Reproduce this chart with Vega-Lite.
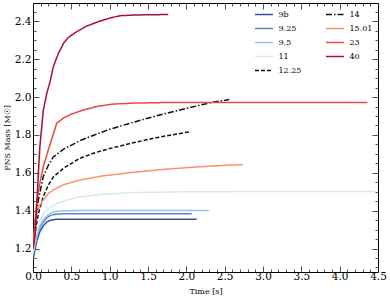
{
  "$schema": "https://vega.github.io/schema/vega-lite/v6.json",
  "width": 345,
  "height": 269,
  "autosize": {"type": "none"},
  "padding": {"left": 33, "top": 3, "right": 12, "bottom": 26},
  "background": "white",
  "config": {
    "view": {"stroke": "black", "strokeWidth": 1},
    "font": "DejaVu Serif",
    "axis": {
      "domain": false,
      "grid": false,
      "labelFont": "DejaVu Serif",
      "labelFontSize": 10.5,
      "labelColor": "black",
      "labelFlush": false,
      "labelOverlap": false,
      "labelBound": false,
      "tickColor": "#222",
      "tickWidth": 0.8,
      "titleFont": "DejaVu Serif",
      "titleFontSize": 8,
      "titleFontWeight": "normal",
      "titleColor": "black"
    }
  },
  "data": {"values": [
    {"m":"9b","t":0,"M":1.14},{"m":"9b","t":0.02,"M":1.18},{"m":"9b","t":0.05,"M":1.24},{"m":"9b","t":0.09,"M":1.29},{"m":"9b","t":0.134,"M":1.32},{"m":"9b","t":0.18,"M":1.34},{"m":"9b","t":0.23,"M":1.35},{"m":"9b","t":0.3,"M":1.354},{"m":"9b","t":1.0,"M":1.354},{"m":"9b","t":2.135,"M":1.354},
    {"m":"9.25","t":0,"M":1.16},{"m":"9.25","t":0.02,"M":1.2},{"m":"9.25","t":0.05,"M":1.26},{"m":"9.25","t":0.09,"M":1.31},{"m":"9.25","t":0.134,"M":1.34},{"m":"9.25","t":0.18,"M":1.362},{"m":"9.25","t":0.23,"M":1.375},{"m":"9.25","t":0.3,"M":1.382},{"m":"9.25","t":0.45,"M":1.384},{"m":"9.25","t":2.07,"M":1.384},
    {"m":"9.5","t":0,"M":1.17},{"m":"9.5","t":0.02,"M":1.21},{"m":"9.5","t":0.048,"M":1.263},{"m":"9.5","t":0.09,"M":1.32},{"m":"9.5","t":0.134,"M":1.35},{"m":"9.5","t":0.18,"M":1.372},{"m":"9.5","t":0.222,"M":1.385},{"m":"9.5","t":0.3,"M":1.396},{"m":"9.5","t":0.41,"M":1.4},{"m":"9.5","t":1.0,"M":1.401},{"m":"9.5","t":2.295,"M":1.401},
    {"m":"11","t":0,"M":1.18},{"m":"11","t":0.03,"M":1.26},{"m":"11","t":0.06,"M":1.31},{"m":"11","t":0.091,"M":1.351},{"m":"11","t":0.15,"M":1.39},{"m":"11","t":0.2,"M":1.41},{"m":"11","t":0.309,"M":1.438},{"m":"11","t":0.45,"M":1.458},{"m":"11","t":0.613,"M":1.473},{"m":"11","t":0.9,"M":1.486},{"m":"11","t":1.265,"M":1.495},{"m":"11","t":2.0,"M":1.5},{"m":"11","t":3.0,"M":1.501},{"m":"11","t":4.46,"M":1.501},
    {"m":"12.25","t":0,"M":1.2},{"m":"12.25","t":0.03,"M":1.29},{"m":"12.25","t":0.07,"M":1.386},{"m":"12.25","t":0.134,"M":1.474},{"m":"12.25","t":0.2,"M":1.535},{"m":"12.25","t":0.265,"M":1.578},{"m":"12.25","t":0.4,"M":1.625},{"m":"12.25","t":0.613,"M":1.677},{"m":"12.25","t":0.8,"M":1.705},{"m":"12.25","t":1.0,"M":1.728},{"m":"12.25","t":1.265,"M":1.755},{"m":"12.25","t":1.6,"M":1.785},{"m":"12.25","t":2.06,"M":1.818},
    {"m":"14","t":0,"M":1.2},{"m":"14","t":0.03,"M":1.33},{"m":"14","t":0.07,"M":1.457},{"m":"14","t":0.134,"M":1.58},{"m":"14","t":0.2,"M":1.64},{"m":"14","t":0.265,"M":1.684},{"m":"14","t":0.4,"M":1.725},{"m":"14","t":0.613,"M":1.77},{"m":"14","t":0.8,"M":1.8},{"m":"14","t":1.0,"M":1.83},{"m":"14","t":1.265,"M":1.862},{"m":"14","t":1.6,"M":1.9},{"m":"14","t":1.917,"M":1.932},{"m":"14","t":2.31,"M":1.97},{"m":"14","t":2.56,"M":1.987},
    {"m":"15.01","t":0,"M":1.2},{"m":"15.01","t":0.02,"M":1.3},{"m":"15.01","t":0.048,"M":1.386},{"m":"15.01","t":0.09,"M":1.43},{"m":"15.01","t":0.134,"M":1.457},{"m":"15.01","t":0.2,"M":1.49},{"m":"15.01","t":0.265,"M":1.51},{"m":"15.01","t":0.4,"M":1.537},{"m":"15.01","t":0.613,"M":1.562},{"m":"15.01","t":0.9,"M":1.583},{"m":"15.01","t":1.265,"M":1.601},{"m":"15.01","t":1.7,"M":1.618},{"m":"15.01","t":2.1,"M":1.63},{"m":"15.01","t":2.57,"M":1.641},{"m":"15.01","t":2.74,"M":1.643},
    {"m":"23","t":0,"M":1.2},{"m":"23","t":0.03,"M":1.36},{"m":"23","t":0.05,"M":1.45},{"m":"23","t":0.082,"M":1.53},{"m":"23","t":0.134,"M":1.633},{"m":"23","t":0.222,"M":1.75},{"m":"23","t":0.31,"M":1.862},{"m":"23","t":0.4,"M":1.89},{"m":"23","t":0.5,"M":1.91},{"m":"23","t":0.656,"M":1.932},{"m":"23","t":0.85,"M":1.952},{"m":"23","t":1.047,"M":1.963},{"m":"23","t":1.3,"M":1.968},{"m":"23","t":1.7,"M":1.971},{"m":"23","t":2.5,"M":1.972},{"m":"23","t":3.5,"M":1.972},{"m":"23","t":4.36,"M":1.971},
    {"m":"40","t":0,"M":1.2},{"m":"40","t":0.025,"M":1.26},{"m":"40","t":0.048,"M":1.42},{"m":"40","t":0.07,"M":1.6},{"m":"40","t":0.09,"M":1.74},{"m":"40","t":0.134,"M":1.93},{"m":"40","t":0.18,"M":2.02},{"m":"40","t":0.222,"M":2.08},{"m":"40","t":0.265,"M":2.16},{"m":"40","t":0.33,"M":2.23},{"m":"40","t":0.4,"M":2.285},{"m":"40","t":0.46,"M":2.315},{"m":"40","t":0.55,"M":2.34},{"m":"40","t":0.7,"M":2.375},{"m":"40","t":0.85,"M":2.398},{"m":"40","t":1.0,"M":2.417},{"m":"40","t":1.135,"M":2.43},{"m":"40","t":1.3,"M":2.433},{"m":"40","t":1.5,"M":2.435},{"m":"40","t":1.765,"M":2.436}
  ]},
  "layer": [
    {
      "mark": {"type": "line", "strokeWidth": 1.5, "clip": true},
      "encoding": {
        "x": {"field": "t", "type": "quantitative", "title": "Time [s]",
          "scale": {"domain": [0, 4.5], "nice": false, "zero": false},
          "axis": {"orient": "bottom", "titlePadding": 2, "labelPadding": 5.5,
            "values": [0,0.1,0.2,0.3,0.4,0.5,0.6,0.7,0.8,0.9,1,1.1,1.2,1.3,1.4,1.5,1.6,1.7,1.8,1.9,2,2.1,2.2,2.3,2.4,2.5,2.6,2.7,2.8,2.9,3,3.1,3.2,3.3,3.4,3.5,3.6,3.7,3.8,3.9,4,4.1,4.2,4.3,4.4,4.5],
            "tickSize": {"condition": {"test": "abs(datum.value*2-round(datum.value*2))<0.001", "value": -6}, "value": -3},
            "labelExpr": "abs(datum.value*2-round(datum.value*2))<0.001 ? format(datum.value,'.1f') : ''"}},
        "y": {"field": "M", "type": "quantitative", "title": "PNS Mass [M☉]",
          "scale": {"domain": [1.076, 2.497], "nice": false, "zero": false},
          "axis": {"orient": "left", "titlePadding": 3, "labelPadding": 8,
            "values": [1.1,1.15,1.2,1.25,1.3,1.35,1.4,1.45,1.5,1.55,1.6,1.65,1.7,1.75,1.8,1.85,1.9,1.95,2,2.05,2.1,2.15,2.2,2.25,2.3,2.35,2.4,2.45],
            "tickSize": {"condition": {"test": "abs(datum.value*5-round(datum.value*5))<0.001", "value": -6}, "value": -3},
            "labelExpr": "abs(datum.value*5-round(datum.value*5))<0.001 ? format(datum.value,'.1f') : ''"}},
        "color": {"field": "m", "type": "nominal",
          "scale": {"domain": ["9b","9.25","9.5","11","12.25","14","15.01","23","40"],
            "range": ["#3b4ba1","#5a86c0","#92c3e6","#d3eaf5","#111111","#111111","#fc9264","#e9483a","#a70f31"]},
          "legend": {"title": null, "orient": "none", "legendX": 221, "legendY": 1.5, "columns": 2,
            "symbolType": "stroke", "symbolSize": 324, "symbolStrokeWidth": 1.5,
            "labelFont": "DejaVu Serif", "labelFontSize": 8, "labelColor": "black",
            "labelOffset": 4.5, "rowPadding": -6.8, "columnPadding": 21, "padding": 0}},
        "strokeDash": {"field": "m", "type": "nominal",
          "scale": {"domain": ["9b","9.25","9.5","11","12.25","14","15.01","23","40"],
            "range": [[1,0],[1,0],[1,0],[1,0],[4,2],[6,2,1.5,2],[1,0],[1,0],[1,0]]},
          "legend": {"title": null, "orient": "none", "legendX": 221, "legendY": 1.5, "columns": 2,
            "symbolType": "stroke", "symbolSize": 324, "symbolStrokeWidth": 1.5,
            "labelFont": "DejaVu Serif", "labelFontSize": 8, "labelColor": "black",
            "labelOffset": 4.5, "rowPadding": -6.8, "columnPadding": 21, "padding": 0}}
      }
    },
    {
      "mark": {"type": "point", "opacity": 0},
      "encoding": {
        "x": {"field": "t", "type": "quantitative",
          "axis": {"orient": "top", "title": null, "labels": false,
            "values": [0,0.1,0.2,0.3,0.4,0.5,0.6,0.7,0.8,0.9,1,1.1,1.2,1.3,1.4,1.5,1.6,1.7,1.8,1.9,2,2.1,2.2,2.3,2.4,2.5,2.6,2.7,2.8,2.9,3,3.1,3.2,3.3,3.4,3.5,3.6,3.7,3.8,3.9,4,4.1,4.2,4.3,4.4,4.5],
            "tickSize": {"condition": {"test": "abs(datum.value*2-round(datum.value*2))<0.001", "value": -6}, "value": -3}}},
        "y": {"field": "M", "type": "quantitative",
          "axis": {"orient": "right", "title": null, "labels": false,
            "values": [1.1,1.15,1.2,1.25,1.3,1.35,1.4,1.45,1.5,1.55,1.6,1.65,1.7,1.75,1.8,1.85,1.9,1.95,2,2.05,2.1,2.15,2.2,2.25,2.3,2.35,2.4,2.45],
            "tickSize": {"condition": {"test": "abs(datum.value*5-round(datum.value*5))<0.001", "value": -6}, "value": -3}}}
      }
    }
  ]
}
